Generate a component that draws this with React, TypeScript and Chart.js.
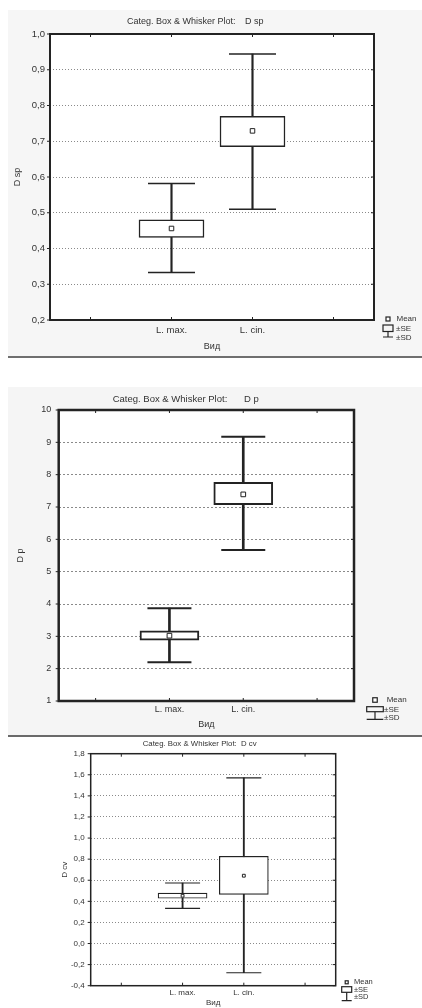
import React, { useEffect, useRef } from "react";
import { Chart, registerables } from "chart.js";

Chart.register(...registerables);
Chart.defaults.font.family = '"Liberation Sans", Arial, sans-serif';

// ---------- data ----------
const categories = ["", "L. max.", "L. cin.", ""];

// Chart 1: D sp
const dspMean = [null, 0.456, 0.729, null];
const dspSeLow = [null, 0.431, 0.685, null];
const dspSeHigh = [null, 0.48, 0.77, null];
const dspSdLow = [null, 0.333, 0.51, null];
const dspSdHigh = [null, 0.582, 0.944, null];

// Chart 2: D p
const dpMean = [null, 3.02, 7.39, null];
const dpSeLow = [null, 2.88, 7.07, null];
const dpSeHigh = [null, 3.17, 7.76, null];
const dpSdLow = [null, 2.2, 5.67, null];
const dpSdHigh = [null, 3.87, 9.17, null];

// Chart 3: D cv
const dcvMean = [null, 0.453, 0.643, null];
const dcvSeLow = [null, 0.429, 0.466, null];
const dcvSeHigh = [null, 0.479, 0.827, null];
const dcvSdLow = [null, 0.334, -0.277, null];
const dcvSdHigh = [null, 0.574, 1.57, null];

const legendLabels = ["Mean", "±SE", "±SD"];
const titlePrefix = "Categ. Box & Whisker Plot:";
const xAxisTitle = "Вид";

type Num = number | null;

type Spec = {
  key: string;
  left: number;
  top: number;
  width: number;
  height: number;
  plot: { l: number; t: number; r: number; b: number };
  yMin: number;
  yMax: number;
  yStep: number;
  decimals: number;
  varName: string;
  titleX1: number;
  titleX2: number;
  titleY: number;
  titleSize: number;
  yTitleX: number;
  xTitleY: number;
  axisTitleSize: number;
  tickSize: number;
  yTickPad: number;
  xTickPad: number;
  boxW: number;
  capW: number;
  meanR: number;
  lineW: number;
  frameW: number;
  gridDash: number[];
  gridColor: string;
  legend: {
    iconL: number;
    iconW: number;
    meanY: number;
    meanS: number;
    boxT: number;
    boxB: number;
    capY: number;
    meanTextX: number;
    textX: number;
    seY: number;
    sdY: number;
    font: number;
  };
  mean: Num[];
  seLow: Num[];
  seHigh: Num[];
  sdLow: Num[];
  sdHigh: Num[];
};

const specs: Spec[] = [
  {
    key: "dsp",
    left: 0,
    top: 0,
    width: 422,
    height: 360,
    plot: { l: 50, t: 34, r: 374, b: 320 },
    yMin: 0.2,
    yMax: 1.0,
    yStep: 0.1,
    decimals: 1,
    varName: "D sp",
    titleX1: 127,
    titleX2: 245,
    titleY: 22,
    titleSize: 9,
    yTitleX: 18,
    xTitleY: 347,
    axisTitleSize: 9,
    tickSize: 9.5,
    yTickPad: 5,
    xTickPad: 5,
    boxW: 65,
    capW: 47,
    meanR: 3.2,
    lineW: 1.5,
    frameW: 2,
    gridDash: [1, 2],
    gridColor: "#8a8a8a",
    legend: {
      iconL: 9, iconW: 10, meanY: -1, meanS: 4, boxT: 5, boxB: 11.5, capY: 17,
      meanTextX: 22.5, textX: 22, seY: 8.5, sdY: 17.5, font: 8,
    },
    mean: dspMean,
    seLow: dspSeLow,
    seHigh: dspSeHigh,
    sdLow: dspSdLow,
    sdHigh: dspSdHigh,
  },
  {
    key: "dp",
    left: 0,
    top: 362,
    width: 422,
    height: 373,
    plot: { l: 58.7, t: 48, r: 354, b: 339 },
    yMin: 1,
    yMax: 10,
    yStep: 1,
    decimals: 0,
    varName: "D p",
    titleX1: 112.7,
    titleX2: 244,
    titleY: 37.3,
    titleSize: 9.5,
    yTitleX: 21,
    xTitleY: 363,
    axisTitleSize: 9,
    tickSize: 9,
    yTickPad: 7.5,
    xTickPad: 3.5,
    boxW: 59,
    capW: 44,
    meanR: 3.3,
    lineW: 2,
    frameW: 2.5,
    gridDash: [2, 2],
    gridColor: "#8a8a8a",
    legend: {
      iconL: 12.7, iconW: 16.6, meanY: -1, meanS: 4.5, boxT: 5.7, boxB: 10.7, capY: 18.3,
      meanTextX: 32.7, textX: 30, seY: 8.5, sdY: 17, font: 8,
    },
    mean: dpMean,
    seLow: dpSeLow,
    seHigh: dpSeHigh,
    sdLow: dpSdLow,
    sdHigh: dpSdHigh,
  },
  {
    key: "dcv",
    left: 57,
    top: 735,
    width: 328,
    height: 273,
    plot: { l: 33.7, t: 18.7, r: 278.7, b: 250.7 },
    yMin: -0.4,
    yMax: 1.8,
    yStep: 0.2,
    decimals: 1,
    varName: "D cv",
    titleX1: 85.7,
    titleX2: 184,
    titleY: 9,
    titleSize: 7.8,
    yTitleX: 8,
    xTitleY: 269,
    axisTitleSize: 8,
    tickSize: 8,
    yTickPad: 6,
    xTickPad: 2.5,
    boxW: 49,
    capW: 35,
    meanR: 2,
    lineW: 1.2,
    frameW: 1.5,
    gridDash: [1, 2],
    gridColor: "#8a8a8a",
    legend: {
      iconL: 6, iconW: 10, meanY: -3.4, meanS: 3, boxT: 1, boxB: 6.6, capY: 15,
      meanTextX: 18.3, textX: 18.3, seY: 4, sdY: 11.6, font: 7.5,
    },
    mean: dcvMean,
    seLow: dcvSeLow,
    seHigh: dcvSeHigh,
    sdLow: dcvSdLow,
    sdHigh: dcvSdHigh,
  },
];

const INK = "#232323";
const TEXT = "#333";

function floating(lo: Num[], hi: Num[]) {
  return lo.map((v, i) => (v == null || hi[i] == null ? null : [v, hi[i] as number]));
}

function fmt(v: number, decimals: number) {
  const x = Math.abs(v) < 1e-9 ? 0 : v;
  return x.toFixed(decimals).replace(".", ",");
}

function decorPlugin(s: Spec) {
  return {
    id: "decor_" + s.key,
    beforeDatasetsDraw(chart: any) {
      const { ctx, chartArea: a } = chart;
      ctx.save();
      ctx.restore();
    },
    beforeDraw(chart: any) {
      const { ctx, chartArea: a } = chart;
      ctx.save();
      ctx.fillStyle = "#fff";
      ctx.fillRect(a.left, a.top, a.right - a.left, a.bottom - a.top);
      ctx.restore();
    },
    afterDraw(chart: any) {
      const { ctx, chartArea: a } = chart;
      const xs = chart.scales.x;
      const ys = chart.scales.y;
      ctx.save();
      // frame
      ctx.strokeStyle = INK;
      ctx.lineWidth = s.frameW;
      ctx.strokeRect(a.left, a.top, a.right - a.left, a.bottom - a.top);
      // small tick marks
      ctx.lineWidth = 1;
      ctx.beginPath();
      ys.ticks.forEach((_t: any, i: number) => {
        const py = ys.getPixelForTick(i);
        ctx.moveTo(a.left - 3, py);
        ctx.lineTo(a.left, py);
        ctx.moveTo(a.right - 3, py);
        ctx.lineTo(a.right, py);
      });
      xs.ticks.forEach((_t: any, i: number) => {
        const px = xs.getPixelForTick(i);
        ctx.moveTo(px, a.top);
        ctx.lineTo(px, a.top + 3);
        ctx.moveTo(px, a.bottom - 3);
        ctx.lineTo(px, a.bottom);
      });
      ctx.stroke();

      // title
      ctx.fillStyle = TEXT;
      ctx.textBaseline = "middle";
      ctx.textAlign = "left";
      ctx.font = `${s.titleSize}px "Liberation Sans", Arial, sans-serif`;
      ctx.fillText(titlePrefix, s.titleX1, s.titleY);
      ctx.fillText(s.varName, s.titleX2, s.titleY);

      // legend
      const L = s.legend;
      const rx = a.right;
      const by = a.bottom;
      const il = rx + L.iconL;
      const cx = il + L.iconW / 2;
      ctx.strokeStyle = INK;
      ctx.lineWidth = 1.2;
      ctx.fillStyle = "#fff";
      ctx.fillRect(cx - L.meanS / 2, by + L.meanY - L.meanS / 2, L.meanS, L.meanS);
      ctx.strokeRect(cx - L.meanS / 2, by + L.meanY - L.meanS / 2, L.meanS, L.meanS);
      ctx.strokeRect(il, by + L.boxT, L.iconW, L.boxB - L.boxT);
      ctx.beginPath();
      ctx.moveTo(cx, by + L.boxB);
      ctx.lineTo(cx, by + L.capY);
      ctx.moveTo(il, by + L.capY);
      ctx.lineTo(il + L.iconW, by + L.capY);
      ctx.stroke();
      ctx.fillStyle = TEXT;
      ctx.font = `${L.font}px "Liberation Sans", Arial, sans-serif`;
      ctx.fillText(legendLabels[0], rx + L.meanTextX, by + L.meanY);
      ctx.fillText(legendLabels[1], rx + L.textX, by + L.seY);
      ctx.fillText(legendLabels[2], rx + L.textX, by + L.sdY);
      ctx.restore();
    },
  };
}

function buildConfig(s: Spec): any {
  const lh = s.axisTitleSize * 1.2;
  const padLeft = s.yTitleX - lh / 2;
  const padBottom = Math.max(0, s.height - s.xTitleY - lh / 2);
  const lastIdx = Math.round((s.yMax - s.yMin) / s.yStep);
  const titleFont = { size: s.axisTitleSize, lineHeight: 1.2 };
  return {
    type: "bar",
    data: {
      labels: categories,
      datasets: [
        {
          type: "line",
          data: s.mean,
          showLine: false,
          pointStyle: "rect",
          pointRadius: s.meanR,
          pointBorderWidth: 1,
          pointBorderColor: INK,
          pointBackgroundColor: "#fff",
          order: 0,
        },
        {
          type: "bar",
          data: floating(s.seLow, s.seHigh),
          backgroundColor: "#fff",
          borderColor: INK,
          borderWidth: s.lineW,
          borderSkipped: false,
          barThickness: s.boxW,
          grouped: false,
          order: 1,
        },
        {
          type: "line",
          data: s.sdHigh,
          showLine: false,
          pointStyle: "line",
          pointRadius: s.capW / 2,
          pointBorderWidth: s.lineW,
          pointBorderColor: INK,
          order: 2,
        },
        {
          type: "line",
          data: s.sdLow,
          showLine: false,
          pointStyle: "line",
          pointRadius: s.capW / 2,
          pointBorderWidth: s.lineW,
          pointBorderColor: INK,
          order: 2,
        },
        {
          type: "bar",
          data: floating(s.sdLow, s.sdHigh),
          backgroundColor: INK,
          borderWidth: 0,
          barThickness: s.lineW,
          grouped: false,
          order: 3,
        },
      ],
    },
    options: {
      responsive: false,
      animation: false,
      devicePixelRatio: 1,
      events: [],
      layout: {
        padding: {
          left: padLeft,
          top: s.plot.t,
          right: s.width - s.plot.r,
          bottom: padBottom,
        },
      },
      plugins: {
        legend: { display: false },
        tooltip: { enabled: false },
        title: { display: false },
      },
      scales: {
        x: {
          type: "category",
          offset: true,
          grid: { display: false, drawTicks: false },
          border: { display: false },
          ticks: {
            color: TEXT,
            font: { size: s.tickSize },
            padding: s.xTickPad,
            maxRotation: 0,
            autoSkip: false,
          },
          title: {
            display: true,
            text: xAxisTitle,
            color: TEXT,
            font: titleFont,
            padding: 0,
          },
          afterFit: (sc: any) => {
            sc.height = s.height - padBottom - s.plot.b;
          },
        },
        y: {
          type: "linear",
          min: s.yMin,
          max: s.yMax,
          grid: {
            drawTicks: false,
            lineWidth: 1,
            color: (c: any) =>
              c.index === 0 || c.index === lastIdx ? "rgba(0,0,0,0)" : s.gridColor,
          },
          border: { display: false, dash: s.gridDash },
          ticks: {
            stepSize: s.yStep,
            color: TEXT,
            font: { size: s.tickSize },
            padding: s.yTickPad,
            callback: (v: any) => fmt(Number(v), s.decimals),
          },
          title: {
            display: true,
            text: s.varName,
            color: TEXT,
            font: titleFont,
            padding: 0,
          },
          afterFit: (sc: any) => {
            sc.width = s.plot.l - padLeft;
          },
        },
      },
    },
    plugins: [decorPlugin(s)],
  };
}

function BoxChart({ spec }: { spec: Spec }) {
  const ref = useRef<HTMLCanvasElement | null>(null);
  useEffect(() => {
    if (!ref.current) return;
    const chart = new Chart(ref.current, buildConfig(spec));
    return () => chart.destroy();
  }, [spec]);
  return (
    <canvas
      ref={ref}
      width={spec.width}
      height={spec.height}
      style={{
        position: "absolute",
        left: spec.left,
        top: spec.top,
        width: spec.width,
        height: spec.height,
      }}
    />
  );
}

export default function App() {
  return (
    <div
      style={{
        position: "absolute",
        left: 0,
        top: 0,
        width: 422,
        height: 1008,
        background: "#fff",
        overflow: "hidden",
      }}
    >
      <div style={{ position: "absolute", left: 8, top: 10, width: 414, height: 346, background: "#f6f6f6" }} />
      <div style={{ position: "absolute", left: 8, top: 355.5, width: 414, height: 2, background: "#6f6f6f" }} />
      <div style={{ position: "absolute", left: 8, top: 387, width: 414, height: 348, background: "#f5f5f5" }} />
      <div style={{ position: "absolute", left: 8, top: 734.5, width: 414, height: 2, background: "#6a6a6a" }} />
      <div style={{ position: "absolute", left: 57, top: 737, width: 328, height: 271, background: "#fff" }} />
      {specs.map((s) => (
        <BoxChart key={s.key} spec={s} />
      ))}
    </div>
  );
}
